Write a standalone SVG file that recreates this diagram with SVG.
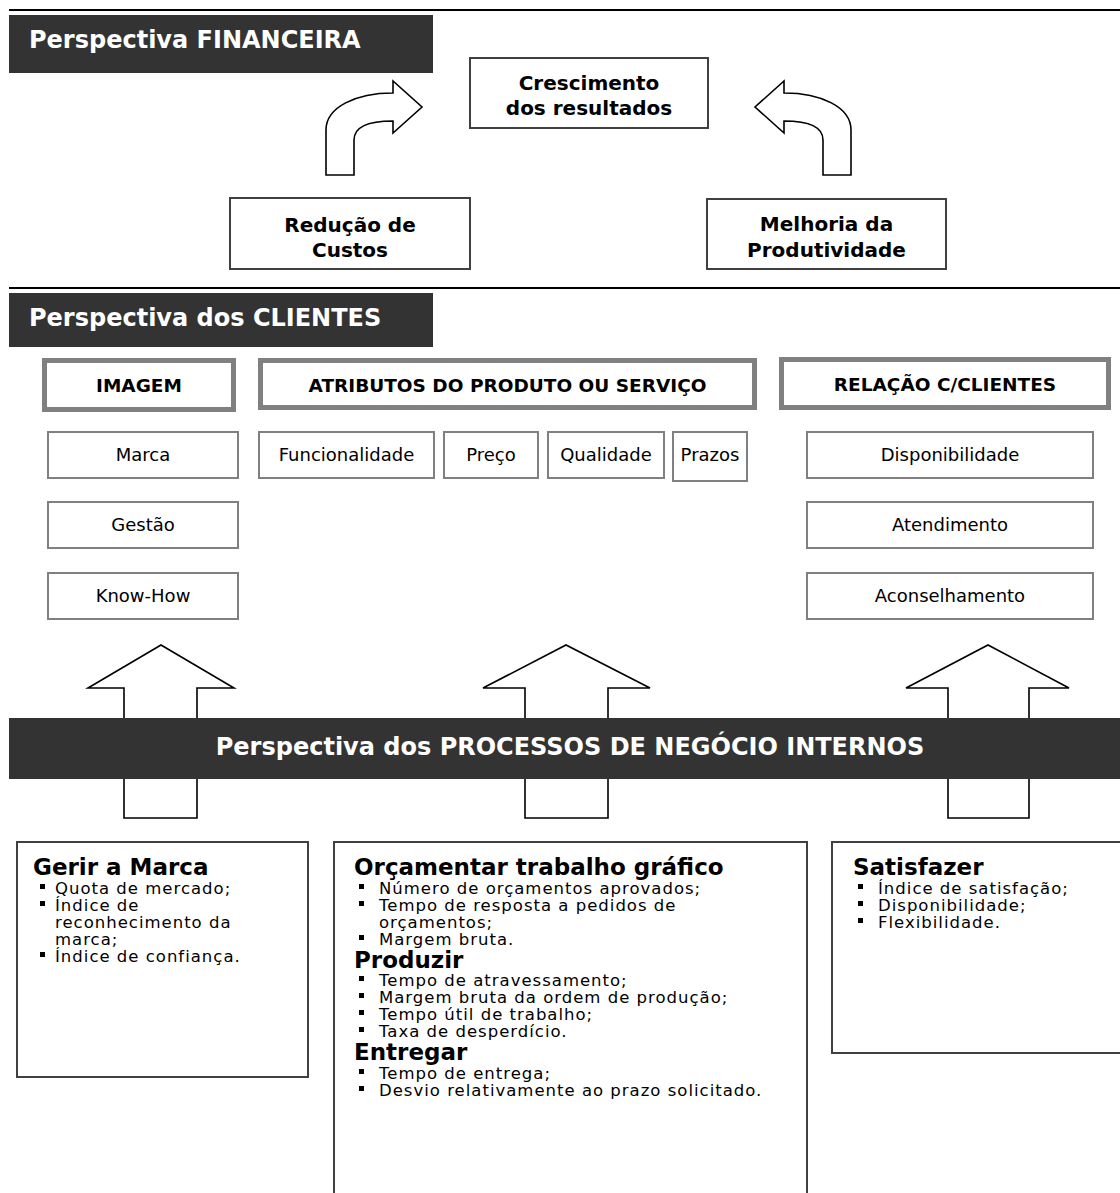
<svg xmlns="http://www.w3.org/2000/svg" width="1120" height="1193" viewBox="0 0 1120 1193">
  <style>
    text { font-family: "DejaVu Sans", Verdana, sans-serif; fill: #000; }
    .sec { font-size: 24px; font-weight: bold; fill: #fff; }
    .top { font-size: 20px; font-weight: bold; text-anchor: middle; }
    .hdr { font-size: 18.5px; font-weight: bold; text-anchor: middle; }
    .lbl { font-size: 18px; text-anchor: middle; }
    .ttl { font-size: 23px; font-weight: bold; }
    .bul { font-size: 16.5px; letter-spacing: 1px; }
    .dark { fill: #333333; }
    .rule { stroke: #000; stroke-width: 2; }
    .topbox { fill: #fff; stroke: #404040; stroke-width: 2; }
    .hdrbox { fill: #fff; stroke: #808080; stroke-width: 5; }
    .itembox { fill: #fff; stroke: #808080; stroke-width: 2; }
    .kpibox { fill: #fff; stroke: #404040; stroke-width: 2; }
    .arrow { fill: #fff; stroke: #000; stroke-width: 1.6; stroke-linejoin: miter; }
    .dot { fill: #000; }
  </style>
  <defs>
    <!-- curved arrow turning from upward to the right -->
    <path id="bend" d="M326,175 L326,130 C326,107 356,93 393,93 L393,81 L422,107 L393,133 L393,121 C368,121 354,127 354,140 L354,175 Z"/>
    <rect id="sq" x="0" y="-5" width="5" height="5"/>
  </defs>

  <rect width="1120" height="1193" fill="#fff"/>

  <!-- section rules -->
  <line class="rule" x1="9" y1="10" x2="1120" y2="10"/>
  <line class="rule" x1="9" y1="288" x2="1120" y2="288"/>

  <!-- Financial perspective -->
  <g id="sec-financeira">
    <rect class="dark" x="9" y="15" width="424" height="58"/>
    <text class="sec" x="29" y="48">Perspectiva FINANCEIRA</text>
  </g>
  <g id="crescimento">
    <rect class="topbox" x="470" y="58" width="238" height="70"/>
    <text class="top" x="589" y="90">Crescimento</text>
    <text class="top" x="589" y="115">dos resultados</text>
  </g>
  <g id="reducao">
    <rect class="topbox" x="230" y="198" width="240" height="71"/>
    <text class="top" x="350" y="232">Redução de</text>
    <text class="top" x="350" y="257">Custos</text>
  </g>
  <g id="melhoria">
    <rect class="topbox" x="707" y="199" width="239" height="70"/>
    <text class="top" x="826.5" y="231">Melhoria da</text>
    <text class="top" x="826.5" y="257">Produtividade</text>
  </g>

  <!-- Customer perspective -->
  <g id="sec-clientes">
    <rect class="dark" x="9" y="293" width="424" height="54"/>
    <text class="sec" x="29" y="326">Perspectiva dos CLIENTES</text>
  </g>
  <g id="imagem">
    <rect class="hdrbox" x="44.5" y="360.5" width="189" height="49"/>
    <text class="hdr" x="139" y="392">IMAGEM</text>
  </g>
  <g id="atributos">
    <rect class="hdrbox" x="260.5" y="360.5" width="494" height="47"/>
    <text class="hdr" x="507.5" y="392">ATRIBUTOS DO PRODUTO OU SERVIÇO</text>
  </g>
  <g id="relacao">
    <rect class="hdrbox" x="781.5" y="359.5" width="327" height="48"/>
    <text class="hdr" x="945" y="391">RELAÇÃO C/CLIENTES</text>
  </g>

  <g id="marca">
    <rect class="itembox" x="48" y="432" width="190" height="46"/>
    <text class="lbl" x="143" y="461">Marca</text>
  </g>
  <g id="gestao">
    <rect class="itembox" x="48" y="502" width="190" height="46"/>
    <text class="lbl" x="143" y="531">Gestão</text>
  </g>
  <g id="knowhow">
    <rect class="itembox" x="48" y="573" width="190" height="46"/>
    <text class="lbl" x="143" y="602">Know-How</text>
  </g>
  <g id="funcionalidade">
    <rect class="itembox" x="259" y="432" width="175" height="46"/>
    <text class="lbl" x="346.5" y="461">Funcionalidade</text>
  </g>
  <g id="preco">
    <rect class="itembox" x="444" y="432" width="94" height="46"/>
    <text class="lbl" x="491" y="461">Preço</text>
  </g>
  <g id="qualidade">
    <rect class="itembox" x="548" y="432" width="116" height="46"/>
    <text class="lbl" x="606" y="461">Qualidade</text>
  </g>
  <g id="prazos">
    <rect class="itembox" x="673" y="432" width="74" height="49"/>
    <text class="lbl" x="710" y="461">Prazos</text>
  </g>
  <g id="disponibilidade">
    <rect class="itembox" x="807" y="432" width="286" height="46"/>
    <text class="lbl" x="950" y="461">Disponibilidade</text>
  </g>
  <g id="atendimento">
    <rect class="itembox" x="807" y="502" width="286" height="46"/>
    <text class="lbl" x="950" y="531">Atendimento</text>
  </g>
  <g id="aconselhamento">
    <rect class="itembox" x="807" y="573" width="286" height="46"/>
    <text class="lbl" x="950" y="602">Aconselhamento</text>
  </g>

  <!-- connectors: block arrows -->
  <g id="connectors">
    <use href="#bend" class="arrow"/>
    <use href="#bend" class="arrow" transform="translate(1177,0) scale(-1,1)"/>
    <path class="arrow" d="M124,818 L124,688 L88,688 L161,645 L234,688 L197,688 L197,818 Z"/>
    <path class="arrow" d="M525,818 L525,688 L483,688 L566,645 L650,688 L608,688 L608,818 Z"/>
    <path class="arrow" d="M948,818 L948,688 L906,688 L988,645 L1069,688 L1029,688 L1029,818 Z"/>
  </g>

  <!-- Internal business processes band (drawn over the arrow shafts) -->
  <g id="sec-processos">
    <rect class="dark" x="9" y="718" width="1111" height="61"/>
    <text class="sec" x="570" y="755" text-anchor="middle">Perspectiva dos PROCESSOS DE NEGÓCIO INTERNOS</text>
  </g>

  <!-- process indicator boxes -->
  <g id="gerir">
    <rect class="kpibox" x="17" y="842" width="291" height="235"/>
    <text class="ttl" x="33" y="875">Gerir a Marca</text>
    <use href="#sq" class="dot" x="40" y="889"/>
    <text class="bul" x="55" y="894">Quota de mercado;</text>
    <use href="#sq" class="dot" x="40" y="906"/>
    <text class="bul" x="55" y="911">Índice de</text>
    <text class="bul" x="55" y="928">reconhecimento da</text>
    <text class="bul" x="55" y="945">marca;</text>
    <use href="#sq" class="dot" x="40" y="957"/>
    <text class="bul" x="55" y="962">Índice de confiança.</text>
  </g>

  <g id="orcamentar">
    <rect class="kpibox" x="334" y="842" width="473" height="400"/>
    <text class="ttl" x="354" y="875">Orçamentar trabalho gráfico</text>
    <use href="#sq" class="dot" x="359" y="889"/>
    <text class="bul" x="379" y="894">Número de orçamentos aprovados;</text>
    <use href="#sq" class="dot" x="359" y="906"/>
    <text class="bul" x="379" y="911">Tempo de resposta a pedidos de</text>
    <text class="bul" x="379" y="928">orçamentos;</text>
    <use href="#sq" class="dot" x="359" y="940"/>
    <text class="bul" x="379" y="945">Margem bruta.</text>
    <text class="ttl" x="354" y="968">Produzir</text>
    <use href="#sq" class="dot" x="359" y="981"/>
    <text class="bul" x="379" y="986">Tempo de atravessamento;</text>
    <use href="#sq" class="dot" x="359" y="998"/>
    <text class="bul" x="379" y="1003">Margem bruta da ordem de produção;</text>
    <use href="#sq" class="dot" x="359" y="1015"/>
    <text class="bul" x="379" y="1020">Tempo útil de trabalho;</text>
    <use href="#sq" class="dot" x="359" y="1032"/>
    <text class="bul" x="379" y="1037">Taxa de desperdício.</text>
    <text class="ttl" x="354" y="1060">Entregar</text>
    <use href="#sq" class="dot" x="359" y="1074"/>
    <text class="bul" x="379" y="1079">Tempo de entrega;</text>
    <use href="#sq" class="dot" x="359" y="1091"/>
    <text class="bul" x="379" y="1096">Desvio relativamente ao prazo solicitado.</text>
  </g>

  <g id="satisfazer">
    <rect class="kpibox" x="832" y="842" width="300" height="211"/>
    <text class="ttl" x="853" y="875">Satisfazer</text>
    <use href="#sq" class="dot" x="858" y="889"/>
    <text class="bul" x="878" y="894">Índice de satisfação;</text>
    <use href="#sq" class="dot" x="858" y="906"/>
    <text class="bul" x="878" y="911">Disponibilidade;</text>
    <use href="#sq" class="dot" x="858" y="923"/>
    <text class="bul" x="878" y="928">Flexibilidade.</text>
  </g>
</svg>
